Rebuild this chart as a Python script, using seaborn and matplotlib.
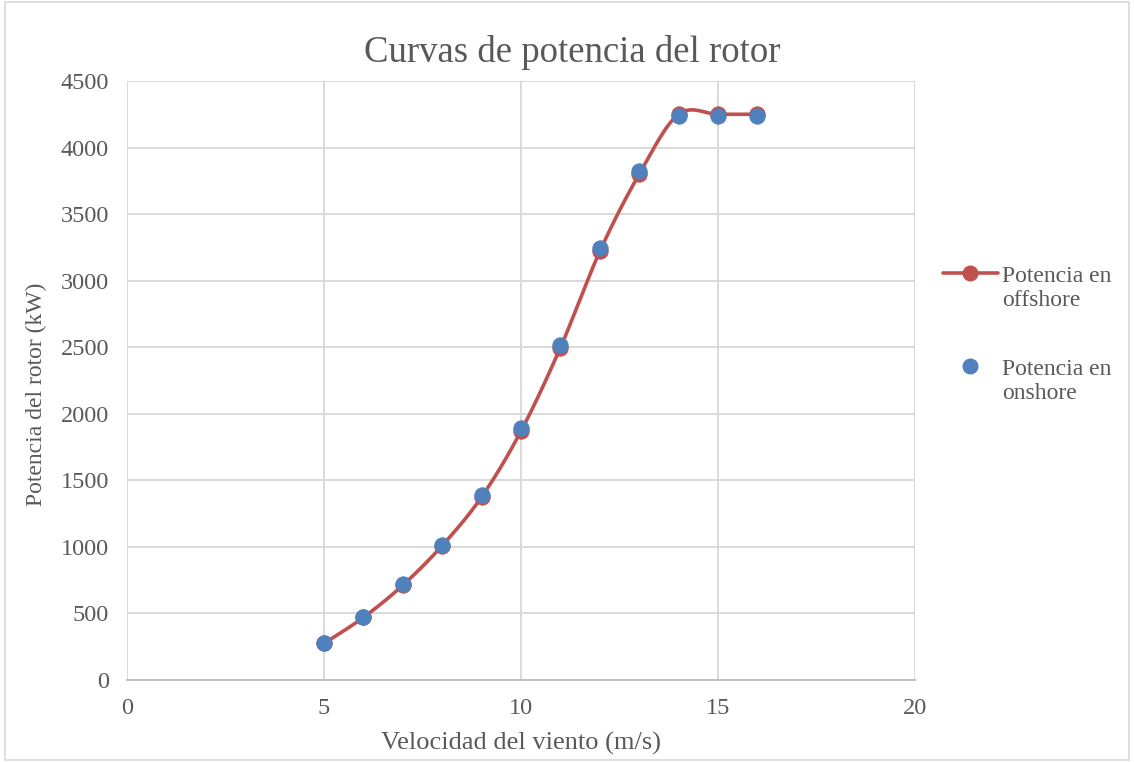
import numpy as np
import pandas as pd
import seaborn as sns
import matplotlib.pyplot as plt
from matplotlib.lines import Line2D
from matplotlib.patches import Rectangle

# Wind speed (m/s) and rotor power (kW)
velocidad = [5, 6, 7, 8, 9, 10, 11, 12, 13, 14, 15, 16]
potencia_offshore = [275, 470, 712, 1010, 1375, 1870, 2497, 3220, 3800, 4250, 4250, 4250]
potencia_onshore = [278, 473, 718, 1014, 1388, 1893, 2520, 3246, 3826, 4237, 4237, 4237]

x_ticks = [0, 5, 10, 15, 20]
y_ticks = [0, 500, 1000, 1500, 2000, 2500, 3000, 3500, 4000, 4500]
series_labels = ["Potencia en\noffshore", "Potencia en\nonshore"]

RED = "#C0504D"
BLUE = "#4F81BD"
TXT = "#595959"
GRID = "#D9D9D9"
W, H = 1134, 762


def smooth_curve(xs, ys, n=40):
    """Cubic Bezier smoothing through each point (Catmull-Rom style)."""
    p = np.column_stack([xs, ys]).astype(float)
    ext = np.vstack([p[0], p, p[-1]])
    out = []
    t = np.linspace(0, 1, n)[:, None]
    for i in range(len(p) - 1):
        p0, p1, p2, p3 = ext[i], ext[i + 1], ext[i + 2], ext[i + 3]
        c1 = p1 + (p2 - p0) / 6.0
        c2 = p2 - (p3 - p1) / 6.0
        seg = ((1 - t) ** 3) * p1 + 3 * ((1 - t) ** 2) * t * c1 + 3 * (1 - t) * t ** 2 * c2 + t ** 3 * p2
        out.append(seg if i == 0 else seg[1:])
    s = np.vstack(out)
    return s[:, 0], s[:, 1]


def fx(px):
    return px / W


def fy(py):
    return 1 - py / H


sns.set_theme(style="white")
plt.rcParams["font.family"] = ["Liberation Serif", "DejaVu Serif"]

fig = plt.figure(figsize=(W / 100, H / 100), dpi=100)
ax = fig.add_axes([fx(127), fy(680), fx(915) - fx(127), fy(81) - fy(680)])

sx, sy = smooth_curve(velocidad, potencia_offshore)
curve = pd.DataFrame({"x": sx, "y": sy})
off = pd.DataFrame({"v": velocidad, "p": potencia_offshore})
on = pd.DataFrame({"v": velocidad, "p": potencia_onshore})

sns.lineplot(data=curve, x="x", y="y", ax=ax, color=RED, linewidth=2.6,
             sort=False, estimator=None, zorder=3)
sns.scatterplot(data=off, x="v", y="p", ax=ax, color=RED, s=125,
                edgecolor=RED, linewidth=0.5, zorder=4)
sns.scatterplot(data=on, x="v", y="p", ax=ax, color=BLUE, s=125,
                edgecolor=BLUE, linewidth=0.5, zorder=5)

ax.set_xlim(0, 20)
ax.set_ylim(0, 4500)
ax.set_xticks(x_ticks)
ax.set_yticks(y_ticks)
ax.grid(True, color=GRID, linewidth=1.4)
ax.set_axisbelow(True)
for side in ["top", "right", "left"]:
    ax.spines[side].set_visible(False)
ax.spines["bottom"].set_color("#BFBFBF")
ax.spines["bottom"].set_linewidth(1.4)
ax.tick_params(axis="both", length=0, labelsize=17.5, labelcolor=TXT)
ax.tick_params(axis="x", pad=13)
ax.tick_params(axis="y", pad=13)

ax.set_xlabel("Velocidad del viento (m/s)", fontsize=19, color=TXT, labelpad=9)
ax.set_ylabel("Potencia del rotor (kW)", fontsize=17, color=TXT)
ax.yaxis.set_label_coords(fx(36) - fx(127), 0, transform=fig.transFigure)
ax.yaxis.label.set_position((fx(36), fy(394)))
ax.yaxis.label.set_va("center")
fig.text(fx(572), fy(52), "Curvas de potencia del rotor", fontsize=26.5,
         color=TXT, ha="center", va="center")

# legend: handle aligned with the first line of each two-line label
leg_rows = [(273, dict(color=RED, linewidth=2.6, marker="o", markersize=10.5,
                       markerfacecolor=RED, markeredgecolor=RED)),
            (366, dict(linestyle="none", marker="o", markersize=10.5,
                       markerfacecolor=BLUE, markeredgecolor=BLUE))]
for (row_y, style), label in zip(leg_rows, series_labels):
    if style.get("linestyle") == "none":
        xs = [fx(970)]
    else:
        xs = [fx(943), fx(970), fx(998)]
    ln = Line2D(xs, [fy(row_y)] * len(xs), transform=fig.transFigure, **style)
    if len(xs) == 3:
        ln.set_markevery([1])
    fig.add_artist(ln)
    fig.text(fx(1002), fy(row_y - 7), label, fontsize=17, color=TXT,
             ha="left", va="top", linespacing=1.2)

fig.patches.append(Rectangle((0.004, 0.003), 0.992, 0.994, transform=fig.transFigure,
                             fill=False, edgecolor="#D9D9D9", linewidth=1.2))

fig.savefig("out.png", dpi=100, facecolor="white")
